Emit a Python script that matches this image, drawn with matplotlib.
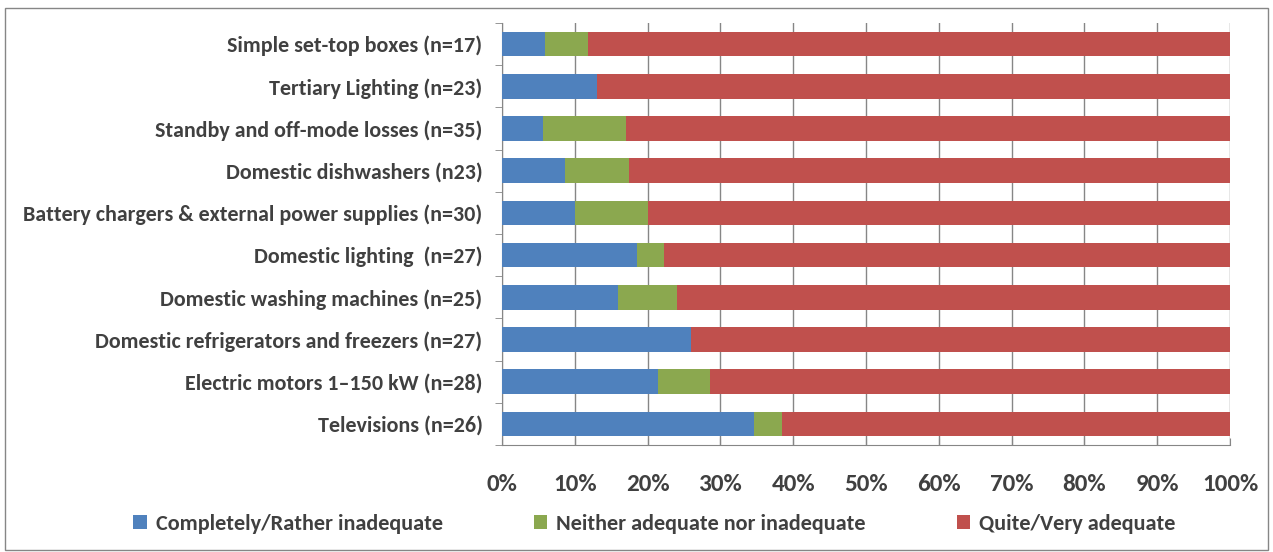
import matplotlib
matplotlib.use("Agg")
import matplotlib.pyplot as plt
import numpy as np
from matplotlib.patches import Rectangle

# categories listed bottom to top
categories = [
    "Televisions (n=26)",
    "Electric motors 1\u2013150 kW (n=28)",
    "Domestic refrigerators and freezers (n=27)",
    "Domestic washing machines (n=25)",
    "Domestic lighting  (n=27)",
    "Battery chargers & external power supplies (n=30)",
    "Domestic dishwashers (n23)",
    "Standby and off-mode losses (n=35)",
    "Tertiary Lighting (n=23)",
    "Simple set-top boxes (n=17)",
]
# shares in percent
inadequate = [34.6, 21.4, 25.9, 16.0, 18.5, 10.0, 8.7, 5.7, 13.0, 5.9]
neither = [3.9, 7.2, 0.0, 8.0, 3.7, 10.0, 8.7, 11.4, 0.0, 5.9]
adequate = [61.5, 71.4, 74.1, 76.0, 77.8, 80.0, 82.6, 82.9, 87.0, 88.2]

series_names = ["Completely/Rather inadequate",
                "Neither adequate nor inadequate",
                "Quite/Very adequate"]
colors = ["#4F81BD", "#8BA84F", "#C0504D"]

fontname = ["Carlito", "Lato", "DejaVu Sans"]
txt_color = "#404040"

fig = plt.figure(figsize=(12.73, 5.52), dpi=100)
ax = fig.add_axes([502 / 1273, 1 - 445 / 552, 728 / 1273, 422 / 552])

y = np.arange(len(categories))
left = np.zeros(len(categories))
for vals, name, c in zip([inadequate, neither, adequate], series_names, colors):
    ax.barh(y, vals, left=left, height=0.58, color=c, label=name, zorder=3)
    left = left + np.array(vals)

ax.set_xlim(0, 100)
ax.set_ylim(-0.5, len(categories) - 0.5)
ax.set_xticks(np.arange(0, 101, 10))
ax.set_xticklabels(["%d%%" % v for v in range(0, 101, 10)],
                   fontsize=18, fontweight="bold", color=txt_color, family=fontname)
ax.set_yticks(y)
ax.set_yticklabels(categories, fontsize=15.8, fontweight="bold", color=txt_color, family=fontname)
ax.tick_params(axis="y", length=0, pad=14)
ax.tick_params(axis="x", length=5, color="#868686", pad=21, direction="in")
# minor ticks between categories on y axis
ax.set_yticks(np.arange(-0.5, len(categories), 1), minor=True)
ax.tick_params(axis="y", which="minor", length=5, color="#868686", direction="out")
ax.grid(axis="x", color="#868686", linewidth=1, zorder=0)
for s in ["top", "right"]:
    ax.spines[s].set_visible(False)
for s in ["left", "bottom"]:
    ax.spines[s].set_color("#868686")

leg = fig.legend(loc="lower center", bbox_to_anchor=(0.514, -0.004), ncol=3, frameon=False,
                 handlelength=0.6, handleheight=0.6, handletextpad=0.4, columnspacing=4.1,
                 prop={"family": fontname, "size": 16, "weight": "bold"})
for t in leg.get_texts():
    t.set_color(txt_color)

# outer border
fig.patches.append(Rectangle((5 / 1273, 2 / 552), 1263 / 1273, 542 / 552, transform=fig.transFigure,
                             fill=False, edgecolor="#868686", linewidth=1))

fig.savefig("out.png", dpi=100)
